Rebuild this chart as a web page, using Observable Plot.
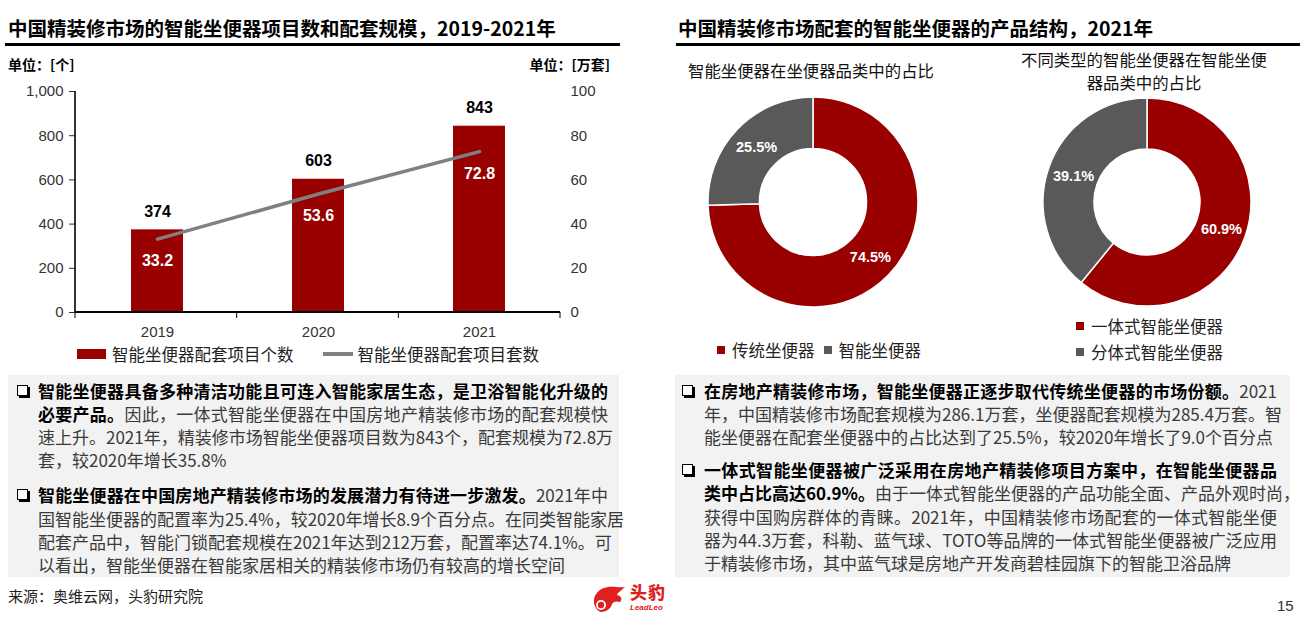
<!DOCTYPE html>
<html><head><meta charset="utf-8">
<script src="https://cdn.jsdelivr.net/npm/d3@7"></script>
<script src="https://cdn.jsdelivr.net/npm/@observablehq/plot@0.6"></script>
<style>
html,body{margin:0;padding:0;background:#fff}
body{width:1316px;height:618px;position:relative;overflow:hidden;font-family:"Noto Sans CJK SC","Liberation Sans",sans-serif;color:#000}
.abs{position:absolute}
.title{font-size:19.5px;font-weight:bold;white-space:nowrap;line-height:22px}
.rule{height:3px;background:#000}
.unit{font-size:14px;font-weight:bold;line-height:16px;white-space:nowrap}
.lg{font-size:16.5px;line-height:20px;white-space:nowrap;color:#222;display:flex;align-items:center}
.sq{display:inline-block;width:8px;height:8px;margin-right:7px}
.box{background:#f2f2f2;box-sizing:border-box;padding-top:3.5px}
.para{position:relative}
.ln{font-size:17px;line-height:23.3px;height:23.3px;white-space:nowrap;text-align:justify;text-align-last:justify;color:#3a3a3a;overflow:visible}
.ln.last{text-align-last:left}
.ln b{color:#000}
.bul{position:absolute;top:6px;width:9px;height:9px;border:1.3px solid #000;background:#fff;box-shadow:2px 2px 0 #000}
.sub{font-size:16.4px;line-height:22.5px;text-align:center;color:#111}
</style></head><body>
<div class="abs title" style="left:8px;top:17px">中国精装修市场的智能坐便器项目数和配套规模，2019-2021年</div>
<div class="abs rule" style="left:5px;top:43px;width:615px"></div>
<div class="abs title" style="left:678px;top:17px">中国精装修市场配套的智能坐便器的产品结构，2021年</div>
<div class="abs rule" style="left:676px;top:43px;width:624px"></div>

<div class="abs unit" style="left:8px;top:56px">单位：[个]</div>
<div class="abs unit" style="right:706px;top:56px">单位：[万套]</div>

<div id="bar" class="abs" style="left:0;top:80px"></div>
<div class="abs lg" style="left:77px;top:344px"><span style="display:inline-block;width:29px;height:10px;background:#990000;margin-right:6px"></span>智能坐便器配套项目个数<span style="display:inline-block;width:30px;height:3.5px;background:#808080;margin-left:29px;margin-right:5px"></span>智能坐便器配套项目套数</div>

<div class="abs sub" style="left:681px;top:59px;width:260px">智能坐便器在坐便器品类中的占比</div>
<div class="abs sub" style="left:1004px;top:48px;width:280px">不同类型的智能坐便器在智能坐便<br>器品类中的占比</div>
<div id="d1" class="abs" style="left:706px;top:94.5px"></div>
<div id="d2" class="abs" style="left:1040.5px;top:95.5px"></div>
<div id="lg1" class="abs lg" style="left:717px;top:340px"></div>
<div id="lg2" class="abs" style="left:1076px;top:313px"></div>

<div class="abs box" style="left:8px;top:375px;width:611px;height:202px;padding-left:30px;padding-right:11px">
  <div class="para"><span class="bul" style="left:-21px"></span>
    <div class="ln"><b>智能坐便器具备多种清洁功能且可连入智能家居生态，是卫浴智能化升级的</b></div>
    <div class="ln"><b>必要产品。</b>因此，一体式智能坐便器在中国房地产精装修市场的配套规模快</div>
    <div class="ln">速上升。2021年，精装修市场智能坐便器项目数为843个，配套规模为72.8万</div>
    <div class="ln last">套，较2020年增长35.8%</div>
  </div>
  <div class="para" style="margin-top:11.7px"><span class="bul" style="left:-21px"></span>
    <div class="ln"><b>智能坐便器在中国房地产精装修市场的发展潜力有待进一步激发。</b>2021年中</div>
    <div class="ln">国智能坐便器的配置率为25.4%，较2020年增长8.9个百分点。在同类智能家居</div>
    <div class="ln">配套产品中，智能门锁配套规模在2021年达到212万套，配置率达74.1%。可</div>
    <div class="ln last">以看出，智能坐便器在智能家居相关的精装修市场仍有较高的增长空间</div>
  </div>
</div>

<div class="abs box" style="left:675px;top:375px;width:615px;height:202px;padding-left:29px;padding-right:13px">
  <div class="para"><span class="bul" style="left:-22px"></span>
    <div class="ln"><b>在房地产精装修市场，智能坐便器正逐步取代传统坐便器的市场份额。</b>2021</div>
    <div class="ln">年，中国精装修市场配套规模为286.1万套，坐便器配套规模为285.4万套。智</div>
    <div class="ln last">能坐便器在配套坐便器中的占比达到了25.5%，较2020年增长了9.0个百分点</div>
  </div>
  <div class="para" style="margin-top:9.7px"><span class="bul" style="left:-22px"></span>
    <div class="ln"><b>一体式智能坐便器被广泛采用在房地产精装修项目方案中，在智能坐便器品</b></div>
    <div class="ln"><b>类中占比高达60.9%。</b>由于一体式智能坐便器的产品功能全面、产品外观时尚，</div>
    <div class="ln">获得中国购房群体的青睐。2021年，中国精装修市场配套的一体式智能坐便</div>
    <div class="ln">器为44.3万套，科勒、蓝气球、TOTO等品牌的一体式智能坐便器被广泛应用</div>
    <div class="ln last">于精装修市场，其中蓝气球是房地产开发商碧桂园旗下的智能卫浴品牌</div>
  </div>
</div>

<div class="abs" style="left:8px;top:587px;font-size:15px;line-height:18px;color:#222">来源：奥维云网，头豹研究院</div>
<div class="abs" style="left:590px;top:583px;width:85px;height:32px">
  <svg width="40" height="32" style="position:absolute;left:0;top:0">
    <path d="M4,20 C3,12 9,5 18,4 C24,3 30,5 35,4 C31,8 28,9 27,12 C31,13 33,16 30,19 C27,18 24,18 22,21 C21,25 17,29 11,29 C7,28 5,24 4,20 Z" fill="#e02020"/>
    <circle cx="11" cy="22" r="5" fill="#fff"/><circle cx="11" cy="22" r="3.2" fill="#e02020"/>
  </svg>
  <div style="position:absolute;left:40px;top:0;font-size:17px;font-weight:900;color:#e02020;line-height:18px;letter-spacing:1px">头豹</div>
  <div style="position:absolute;left:40px;top:20px;font-family:'Liberation Sans';font-size:8px;font-style:italic;font-weight:bold;color:#e02020;line-height:9px">LeadLeo</div>
</div>
<div class="abs" style="left:1277px;top:597px;font-family:'Liberation Sans';font-size:15px;line-height:18px;color:#333">15</div>

<script>
// ---- data: left chart ----
const years = ["2019", "2020", "2021"];
const projectCounts = [374, 603, 843];      // 智能坐便器配套项目个数 (个)
const projectSets = [33.2, 53.6, 72.8];     // 智能坐便器配套项目套数 (万套)
const countTicks = [0, 200, 400, 600, 800, 1000];
const setTicks = [0, 20, 40, 60, 80, 100];
// ---- data: donuts ----
const toiletNames = ["传统坐便器", "智能坐便器"];
const toiletShares = [74.5, 25.5];
const smartNames = ["一体式智能坐便器", "分体式智能坐便器"];
const smartShares = [60.9, 39.1];
const RED = "#990000", GRAY = "#595959", LINE = "#808080";

const RATIO = 10; // right axis (0–100 万套) mapped onto left axis (0–1000 个)
const rows = years.map((y, i) => ({year: y, count: projectCounts[i], sets: projectSets[i]}));

const frameMark = (index, scales, values, dim) => {
  const g = d3.create("svg:g").attr("stroke", "#000").attr("fill", "none");
  const x0 = dim.marginLeft, x1 = dim.width - dim.marginRight;
  const yt = dim.marginTop, yb = dim.height - dim.marginBottom;
  g.append("line").attr("x1", x0).attr("x2", x0).attr("y1", yt).attr("y2", yb).attr("stroke-width", 1.6);
  g.append("line").attr("x1", x0).attr("x2", x1).attr("y1", yb).attr("y2", yb).attr("stroke-width", 2);
  const n = years.length;
  for (let i = 0; i <= n; i++) {
    const x = x0 + i * (x1 - x0) / n;
    g.append("line").attr("x1", x).attr("x2", x).attr("y1", yb).attr("y2", yb + 6).attr("stroke-width", 1);
  }
  return g.node();
};

const bar = Plot.plot({
  width: 620, height: 262,
  marginLeft: 75, marginRight: 60, marginTop: 11, marginBottom: 30,
  style: {fontFamily: "'Liberation Sans', 'Noto Sans CJK SC', sans-serif", fontSize: "15px", color: "#333", background: "transparent", overflow: "visible"},
  x: {domain: years, paddingInner: 0.68, paddingOuter: 0.34, label: null},
  y: {domain: [0, 1000], label: null},
  marks: [
    Plot.barY(rows, {x: "year", y: "count", fill: RED}),
    Plot.line(rows, {x: "year", y: d => d.sets * RATIO, stroke: LINE, strokeWidth: 3.5}),
    Plot.text(rows, {x: "year", y: "count", text: d => String(d.count), dy: -18, fontWeight: "bold", fontSize: 16, fill: "#000"}),
    Plot.text(rows, {x: "year", y: d => d.sets * RATIO, text: d => d.sets.toFixed(1), dy: 22, fill: "#fff", fontWeight: "bold", fontSize: 16}),
    Plot.axisY(countTicks, {anchor: "left", tickFormat: d3.format(","), tickSize: 6, tickPadding: 6, label: null}),
    Plot.axisY(setTicks.map(v => v * RATIO), {anchor: "right", tickFormat: d => String(d / RATIO), tickSize: 0, tickPadding: 10, label: null}),
    Plot.axisX({tickSize: 0, tickPadding: 14, label: null}),
    frameMark
  ]
});
document.getElementById("bar").appendChild(bar);

function donut(names, shares, R) {
  const data = names.map((n, i) => ({name: n, value: shares[i]}));
  const arcs = d3.pie().sort(null).value(d => d.value)(data);
  const inner = 0.51, mid = (1 + inner) / 2;
  const labels = arcs.map(a => {
    const ang = (a.startAngle + a.endAngle) / 2;
    return {x: Math.sin(ang) * mid, y: Math.cos(ang) * mid, text: a.data.value.toFixed(1) + "%"};
  });
  return Plot.plot({
    width: 2 * R + 4, height: 2 * R + 4, margin: 2,
    style: {fontFamily: "'Liberation Sans', sans-serif", background: "transparent", overflow: "visible"},
    x: {domain: [-1, 1], axis: null}, y: {domain: [-1, 1], axis: null},
    color: {domain: names, range: [RED, GRAY]},
    marks: [
      Plot.dot(arcs, {
        x: () => 0, y: () => 0, fill: d => d.data.name,
        render: (index, scales, values) => {
          const cx = scales.x(0), cy = scales.y(0), r = scales.x(1) - scales.x(0);
          const gen = d3.arc().innerRadius(r * inner).outerRadius(r);
          const g = d3.create("svg:g").attr("transform", `translate(${cx},${cy})`);
          for (const i of index) {
            g.append("path").attr("d", gen(arcs[i])).attr("fill", values.fill[i])
              .attr("stroke", "#fff").attr("stroke-width", 1.5);
          }
          return g.node();
        }
      }),
      Plot.text(labels, {x: "x", y: "y", text: "text", fill: "#fff", fontSize: 14.5, fontWeight: "bold"})
    ]
  });
}
document.getElementById("d1").appendChild(donut(toiletNames, toiletShares, 105));
document.getElementById("d2").appendChild(donut(smartNames, smartShares, 104));

// legends
const colors = [RED, GRAY];
document.getElementById("lg1").innerHTML = toiletNames.map((n, i) =>
  `<span class="sq" style="background:${colors[i]}"></span><span style="margin-right:${i === 0 ? 9 : 0}px">${n}</span>`).join("");
document.getElementById("lg2").innerHTML = smartNames.map((n, i) =>
  `<div class="lg" style="height:26px"><span class="sq" style="background:${colors[i]}"></span>${n}</div>`).join("");
</script>
</body></html>
